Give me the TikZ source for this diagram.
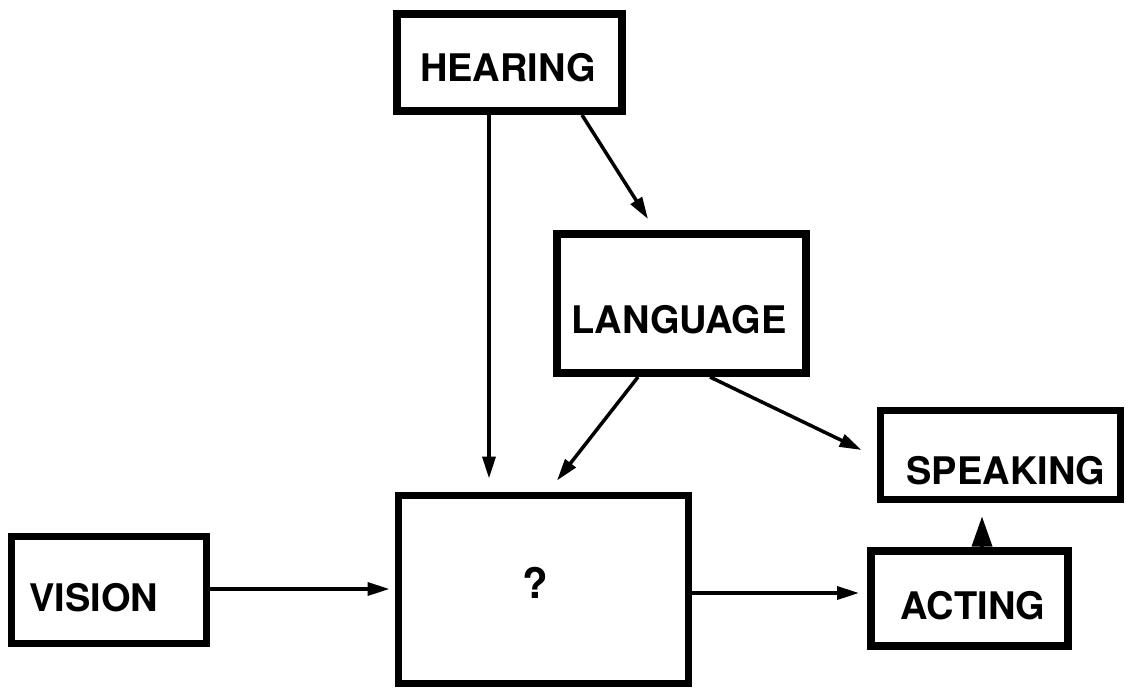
\documentclass[tikz,border=0pt]{standalone}
\usepackage{fontspec}
\setmainfont{TeX Gyre Heros}
\usetikzlibrary{arrows.meta}
\begin{document}
\begin{tikzpicture}[x=1pt,y=-1pt,
  box/.style={draw=black, line width=8pt, fill=none, inner sep=0pt, anchor=center},
  thinbox/.style={box, line width=7pt},
  lbl/.style={inner sep=0pt, anchor=center, font=\fontsize{38}{40}\selectfont\bfseries},
  arr/.style={line width=3.5pt, -{Triangle[length=22pt,width=13pt]}},
  bigarr/.style={line width=3.5pt, -{Triangle[length=30pt,width=20pt]}}]
\useasboundingbox[fill=white] (0,0) rectangle (1126,688);
% boxes
\node[box, minimum width=225pt, minimum height=97pt] (hearing) at (509.5,62.5) {};
\node[box, minimum width=249pt, minimum height=139pt] (language) at (681.5,303.5) {};
\node[thinbox, minimum width=240pt, minimum height=89pt] (speaking) at (1000.5,455) {};
\node[box, minimum width=197pt, minimum height=95pt] (acting) at (969.5,598.5) {};
\node[thinbox, minimum width=195pt, minimum height=107pt] (vision) at (109,590) {};
\node[thinbox, minimum width=290pt, minimum height=188pt] (q) at (543.5,589.5) {};
% labels
\node[lbl] (hearingT) at (508,67.5) {HEARING};
\node[lbl] (languageT) at (679,320) {LANGUAGE};
\node[lbl] (speakingT) at (1006,471) {SPEAKING};
\node[lbl] (actingT) at (973,606) {ACTING};
\node[lbl] (visionT) at (94,598) {VISION};
\node[lbl, font=\fontsize{42}{44}\selectfont\bfseries] (qT) at (535,583) {?};
% connectors
\draw[arr] ([xshift=-20.5pt]hearing.south) -- ([xshift=-54.5pt,yshift=13.5pt]q.north);
\draw[arr] ([xshift=72.5pt]hearing.south) -- ([xshift=-33.5pt,yshift=11pt]language.north);
\draw[arr] ([xshift=-43.5pt]language.south) -- ([xshift=13.5pt,yshift=11.5pt]q.north);
\draw[arr] ([xshift=28.5pt]language.south) -- ([xshift=-15.5pt,yshift=5pt]speaking.west);
\draw[arr] ([yshift=1pt]vision.east) -- ([xshift=-5.5pt,yshift=0.5pt]q.west);
\draw[arr] ([yshift=-3.5pt]q.east) -- ([xshift=-8pt,yshift=5.5pt]acting.west);
\draw[bigarr] ([xshift=12.5pt]acting.north) -- ([xshift=-18.5pt,yshift=-13.5pt]speaking.south);
\end{tikzpicture}
\end{document}
